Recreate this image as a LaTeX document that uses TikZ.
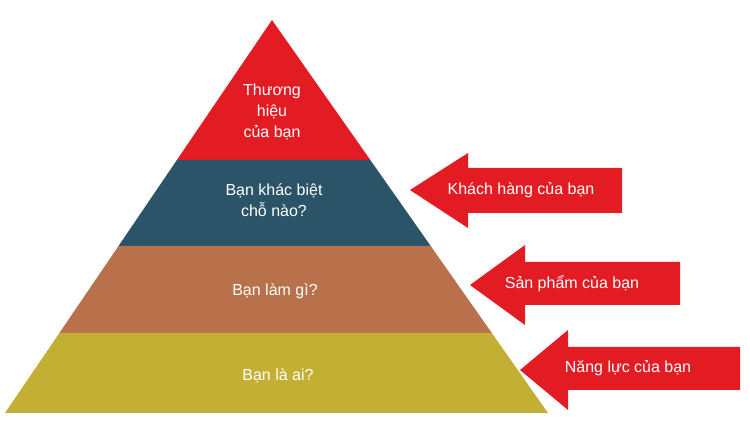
\documentclass[tikz,border=0pt]{standalone}
\usepackage{fontspec}
\setmainfont{Liberation Sans}
\begin{document}
\begin{tikzpicture}[x=1pt,y=-1pt,
  lbl/.style={text=white,font=\fontsize{16}{21}\selectfont,align=center},
  arr/.style={fill=red!85!black,draw=none}]
\useasboundingbox (0,0) rectangle (750,427);
\definecolor{cred}{HTML}{E31B23}
\definecolor{cblue}{HTML}{2B5468}
\definecolor{cbrown}{HTML}{B8714A}
\definecolor{cyel}{HTML}{C4AF35}
\definecolor{carr}{HTML}{E31B23}
\fill[cred] (272,20) -- (176.9,160) -- (370.3,160) -- cycle;
\fill[cblue] (176.9,160) -- (118.5,246) -- (430.7,246) -- (370.3,160) -- cycle;
\fill[cbrown] (118.5,246) -- (59.4,333) -- (491.8,333) -- (430.7,246) -- cycle;
\fill[cyel] (59.4,333) -- (5,413) -- (548,413) -- (491.8,333) -- cycle;
\node[lbl] (t1) at (272,112) {Thương\\hiệu\\của bạn};
\node[lbl] (t2) at (274,200) {Bạn khác biệt\\chỗ nào?};
\node[lbl] (t3) at (275,291) {Bạn làm gì?};
\node[lbl] (t4) at (278,376) {Bạn là ai?};
\fill[carr] (410,190) -- (468,153) -- (468,168) -- (622,168) -- (622,213) -- (468,213) -- (468,228) -- cycle;
\fill[carr] (470,285) -- (525,245) -- (525,262) -- (680,262) -- (680,305) -- (525,305) -- (525,325) -- cycle;
\fill[carr] (520,370) -- (568,330) -- (568,347) -- (740,347) -- (740,390) -- (568,390) -- (568,410) -- cycle;
\node[lbl] (a1) at (521,190) {Khách hàng của bạn};
\node[lbl] (a2) at (572,284) {Sản phẩm của bạn};
\node[lbl] (a3) at (628,368) {Năng lực của bạn};
\end{tikzpicture}
\end{document}
